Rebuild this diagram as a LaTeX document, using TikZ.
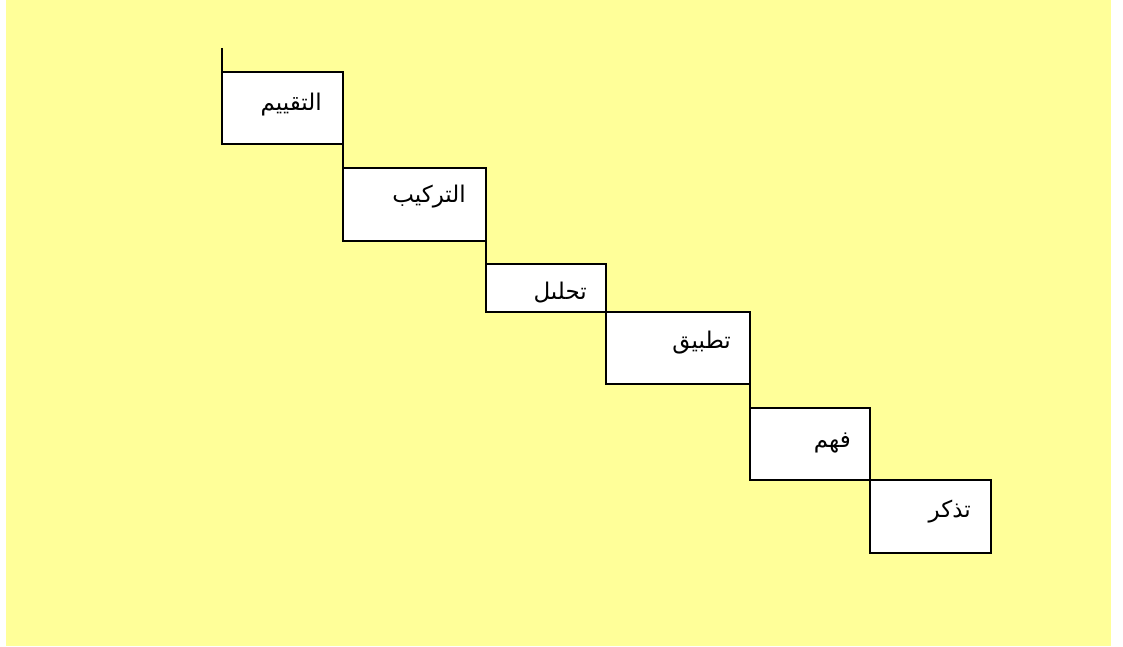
\documentclass[tikz,border=0pt]{standalone}
\usepackage{fontspec}
\usepackage{tikz}
\newfontfamily\arabicfont[Script=Arabic]{DejaVu Sans}
\TeXXeTstate=1
\definecolor{paleyellow}{HTML}{FFFF99}

\tikzset{
  stepbox/.style={draw=black, line width=2pt, fill=white, anchor=north west,
    inner sep=0pt, outer sep=0pt},
  steptext/.style={anchor=east, inner sep=0pt,
    font=\arabicfont\fontsize{23}{26}\selectfont},
  riser/.style={draw=black, line width=1.4pt}
}

\begin{document}
\begin{tikzpicture}[x=1pt,y=-1pt]
    % Fix the page size and draw the yellow background
    \useasboundingbox (0,0) rectangle (1123,647);
    \fill[paleyellow] (6,0) rectangle (1111,646);

    % Draw the six steps of the staircase, top left to bottom right
    \node[stepbox, minimum width=121pt, minimum height=72pt] (evaluation) at (222,72) {};
    \node[stepbox, minimum width=143pt, minimum height=73pt] (synthesis) at (343,168) {};
    \node[stepbox, minimum width=120pt, minimum height=48pt] (analysis) at (486,264) {};
    \node[stepbox, minimum width=144pt, minimum height=72pt] (application) at (606,312) {};
    \node[stepbox, minimum width=120pt, minimum height=72pt] (comprehension) at (750,408) {};
    \node[stepbox, minimum width=121pt, minimum height=73pt] (knowledge) at (870,480) {};

    % Add the labels, set right to left near the right side of each step
    \node[steptext] (evaluationtext) at (322,105) {\beginR التقييم\endR};
    \node[steptext] (synthesistext) at (466,197) {\beginR التركيب\endR};
    \node[steptext] (analysistext) at (587,293) {\beginR تحلىل\endR};
    \node[steptext] (applicationtext) at (731,343) {\beginR تطبيق\endR};
    \node[steptext] (comprehensiontext) at (851,443) {\beginR فهم\endR};
    \node[steptext] (knowledgetext) at (971,512) {\beginR تذكر\endR};

    % Draw the risers that join one step to the next
    \coordinate (top) at (222,48);
    \draw[riser] (top) -- (evaluation.north west);
    \draw[riser] (evaluation.south east) -- (synthesis.north west);
    \draw[riser] (synthesis.south east) -- (analysis.north west);
    \draw[riser] (application.south east) -- (comprehension.north west);
\end{tikzpicture}
\end{document}
